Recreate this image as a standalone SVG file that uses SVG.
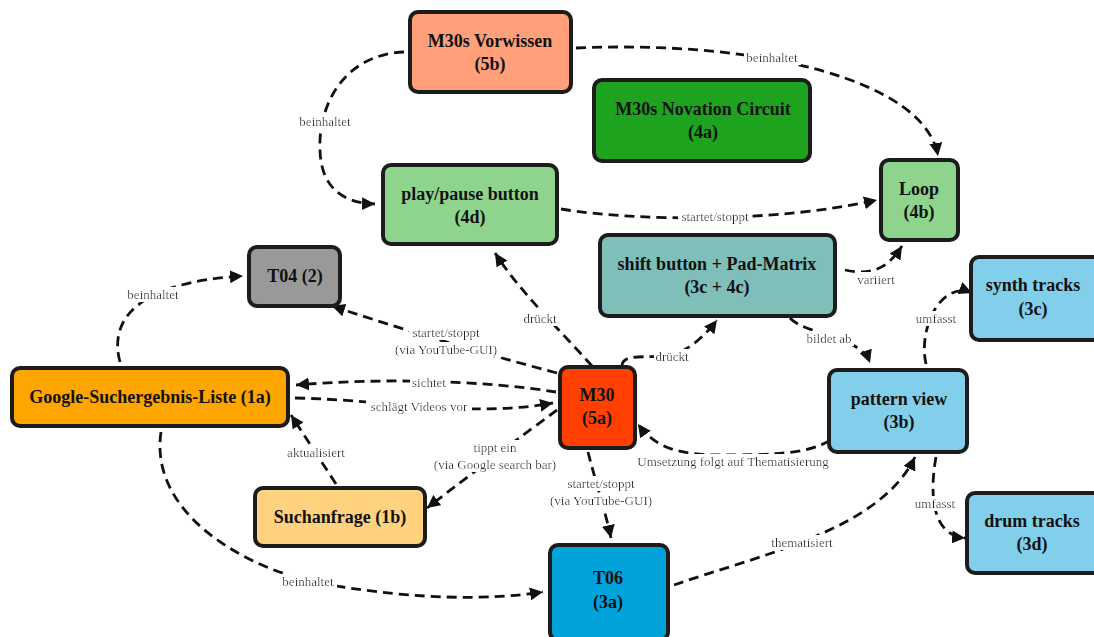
<svg xmlns="http://www.w3.org/2000/svg" width="1094" height="637" viewBox="0 0 1094 637">
  <style>
    .box { stroke: #1c1c1c; stroke-width: 4; }
    .nt { font-family: "Liberation Serif", "Times New Roman", serif; font-weight: bold; font-size: 18px; fill: #111; text-anchor: middle; }
    .edge { fill: none; stroke: #111; stroke-width: 2.8; stroke-dasharray: 10 6; marker-end: url(#arrow); }
    .lbl { font-family: "Liberation Serif", "Times New Roman", serif; font-size: 13px; fill: #222; text-anchor: middle; filter: url(#labelBg); }
  </style>
  <defs>
    <marker id="arrow" markerUnits="userSpaceOnUse" markerWidth="15" markerHeight="13" refX="13" refY="6.5" orient="auto">
      <path d="M0,0 L13,6.5 L0,13 Z" fill="#111"/>
    </marker>
    <!-- white box behind edge labels -->
    <filter id="labelBg" x="-0.04" y="0" width="1.08" height="1">
      <feFlood flood-color="#ffffff"/>
      <feComposite in="SourceGraphic" operator="over"/>
    </filter>
  </defs>
  <rect width="1094" height="637" fill="#fff"/>

  <g id="connectors">
    <path class="edge" d="M 404 52 C 340 55, 318 110, 320 150 C 321 185, 340 203, 375 204"/>
    <path class="edge" d="M 576 48 C 760 40, 925 80, 938 156"/>
    <path class="edge" d="M 561 209 C 640 222, 780 222, 877 200"/>
    <path class="edge" d="M 845 270 C 872 276, 888 268, 902 246"/>
    <path class="edge" d="M 592 366 C 560 330, 520 292, 495 253"/>
    <path class="edge" d="M 557 373 Q 440 342 332 306"/>
    <path class="edge" d="M 120 362 C 108 318, 140 282, 243 276"/>
    <path class="edge" d="M 556 392 C 480 380, 380 378, 296 385"/>
    <path class="edge" d="M 295 398 C 390 400, 470 418, 553 403"/>
    <path class="edge" d="M 557 410 Q 500 452 427 508"/>
    <path class="edge" d="M 336 484 L 291 415"/>
    <path class="edge" d="M 161 432 C 148 520, 260 575, 330 585 C 420 600, 490 600, 543 592"/>
    <path class="edge" d="M 588 452 C 595 480, 605 510, 611 538"/>
    <path class="edge" d="M 622 366 C 622 350, 660 362, 680 352 C 695 345, 708 332, 717 320"/>
    <path class="edge" d="M 790 318 C 805 335, 860 335, 870 363"/>
    <path class="edge" d="M 830 440 C 810 455, 760 455, 720 455 C 680 455, 655 448, 638 424"/>
    <path class="edge" d="M 674 585 C 760 555, 880 530, 915 457"/>
    <path class="edge" d="M 926 364 C 918 330, 940 280, 972 293"/>
    <path class="edge" d="M 936 457 C 930 490, 930 535, 965 538"/>

    <text class="lbl" x="325" y="126">beinhaltet</text>
    <text class="lbl" x="772" y="62">beinhaltet</text>
    <text class="lbl" x="715" y="221">startet/stoppt</text>
    <text class="lbl" x="876" y="284">variiert</text>
    <text class="lbl" x="540" y="323">drückt</text>
    <text class="lbl" x="446" y="337">startet/stoppt</text>
    <text class="lbl" x="446" y="354">(via YouTube-GUI)</text>
    <text class="lbl" x="153" y="299">beinhaltet</text>
    <text class="lbl" x="429" y="387">sichtet</text>
    <text class="lbl" x="419" y="411">schlägt Videos vor</text>
    <text class="lbl" x="495" y="452">tippt ein</text>
    <text class="lbl" x="495" y="469">(via Google search bar)</text>
    <text class="lbl" x="316" y="457">aktualisiert</text>
    <text class="lbl" x="308" y="586">beinhaltet</text>
    <text class="lbl" x="601" y="488">startet/stoppt</text>
    <text class="lbl" x="601" y="505">(via YouTube-GUI)</text>
    <text class="lbl" x="672" y="361">drückt</text>
    <text class="lbl" x="829" y="343">bildet ab</text>
    <text class="lbl" x="733" y="466">Umsetzung folgt auf Thematisierung</text>
    <text class="lbl" x="802" y="547">thematisiert</text>
    <text class="lbl" x="936" y="323">umfasst</text>
    <text class="lbl" x="935" y="508">umfasst</text>
  </g>

  <g id="n5b">
    <rect class="box" x="410" y="12" width="161" height="80" rx="8" fill="#FFA07A"/>
    <text class="nt" x="490" y="47">M30s Vorwissen</text>
    <text class="nt" x="490" y="70">(5b)</text>
  </g>
  <g id="n4a">
    <rect class="box" x="594" y="80" width="216" height="81" rx="8" fill="#1DA31D"/>
    <text class="nt" x="703" y="115">M30s Novation Circuit</text>
    <text class="nt" x="703" y="138">(4a)</text>
  </g>
  <g id="n4d">
    <rect class="box" x="383" y="165" width="174" height="79" rx="8" fill="#8FD48D"/>
    <text class="nt" x="470" y="200">play/pause button</text>
    <text class="nt" x="470" y="223">(4d)</text>
  </g>
  <g id="n4b">
    <rect class="box" x="881" y="160" width="77" height="80" rx="8" fill="#8FD48D"/>
    <text class="nt" x="919" y="195">Loop</text>
    <text class="nt" x="919" y="218">(4b)</text>
  </g>
  <g id="nshift">
    <rect class="box" x="600" y="235" width="235" height="81" rx="8" fill="#80BEB9"/>
    <text class="nt" x="717" y="270">shift button + Pad-Matrix</text>
    <text class="nt" x="717" y="293">(3c + 4c)</text>
  </g>
  <g id="n3c">
    <rect class="box" x="971" y="257" width="140" height="83" rx="8" fill="#81CFEA"/>
    <text class="nt" x="1033" y="291">synth tracks</text>
    <text class="nt" x="1033" y="315">(3c)</text>
  </g>
  <g id="nT04">
    <rect class="box" x="249" y="247" width="91" height="59" rx="8" fill="#999999"/>
    <text class="nt" x="295" y="282">T04 (2)</text>
  </g>
  <g id="n1a">
    <rect class="box" x="12" y="368" width="276" height="58" rx="8" fill="#FFA500"/>
    <text class="nt" x="150" y="403">Google-Suchergebnis-Liste (1a)</text>
  </g>
  <g id="n5a">
    <rect class="box" x="560" y="367" width="75" height="81" rx="8" fill="#FF4000"/>
    <text class="nt" x="597" y="401">M30</text>
    <text class="nt" x="597" y="424">(5a)</text>
  </g>
  <g id="n3b">
    <rect class="box" x="829" y="370" width="138" height="82" rx="8" fill="#81CFEA"/>
    <text class="nt" x="899" y="405">pattern view</text>
    <text class="nt" x="899" y="428">(3b)</text>
  </g>
  <g id="n1b">
    <rect class="box" x="255" y="488" width="170" height="58" rx="8" fill="#FFD280"/>
    <text class="nt" x="340" y="523">Suchanfrage (1b)</text>
  </g>
  <g id="n3d">
    <rect class="box" x="967" y="493" width="140" height="80" rx="8" fill="#81CFEA"/>
    <text class="nt" x="1032" y="527">drum tracks</text>
    <text class="nt" x="1032" y="550">(3d)</text>
  </g>
  <g id="n3a">
    <rect class="box" x="550" y="545" width="118" height="95" rx="8" fill="#00A3DA"/>
    <text class="nt" x="608" y="584">T06</text>
    <text class="nt" x="608" y="608">(3a)</text>
  </g>
</svg>
